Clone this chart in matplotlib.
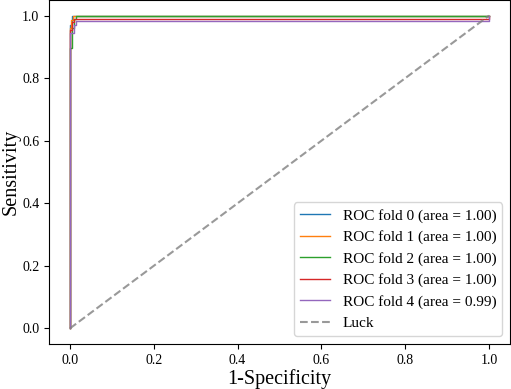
import matplotlib
matplotlib.use("Agg")
import matplotlib.pyplot as plt

plt.rcParams['font.family'] = ['Liberation Serif', 'DejaVu Serif']

labels = ["ROC fold 0 (area = 1.00)", "ROC fold 1 (area = 1.00)", "ROC fold 2 (area = 1.00)",
          "ROC fold 3 (area = 1.00)", "ROC fold 4 (area = 0.99)"]
fpr0 = [0, 0, 0.005, 0.005, 1]
tpr0 = [0, 0.97, 0.97, 1.0, 1.0]
fpr1 = [0, 0, 0.003, 0.003, 0.008, 0.008, 1]
tpr1 = [0, 0.96, 0.96, 0.985, 0.985, 1.0, 1.0]
fpr2 = [0, 0, 0.005, 0.005, 0.01, 0.01, 0.015, 0.015, 1]
tpr2 = [0, 0.895, 0.895, 0.96, 0.96, 0.99, 0.99, 1.0, 1.0]
fpr3 = [0, 0, 0.005, 0.005, 0.01, 0.01, 1, 1]
tpr3 = [0, 0.955, 0.955, 0.98, 0.98, 0.99, 0.99, 1.0]
fpr4 = [0, 0, 0.01, 0.01, 0.015, 0.015, 1, 1]
tpr4 = [0, 0.945, 0.945, 0.97, 0.97, 0.982, 0.982, 1.0]
fprs = [fpr0, fpr1, fpr2, fpr3, fpr4]
tprs = [tpr0, tpr1, tpr2, tpr3, tpr4]
luck = [0, 1]

fig = plt.figure(figsize=(5.11, 3.89), dpi=100)
ax = fig.add_axes([49/511, 45/389, 461/511, 344/389])
for f, t, lab in zip(fprs, tprs, labels):
    ax.plot(f, t, lw=1, label=lab)
ax.plot(luck, luck, linestyle='--', lw=1.5, color='gray', alpha=0.8, label='Luck')
ax.set_xlabel('1-Specificity', fontsize=14.5, labelpad=2)
ax.set_ylabel('Sensitivity', fontsize=14.5, labelpad=1)
ax.tick_params(labelsize=10)
ax.legend(loc='lower right', fontsize=11)
fig.savefig('out.png', dpi=100)
